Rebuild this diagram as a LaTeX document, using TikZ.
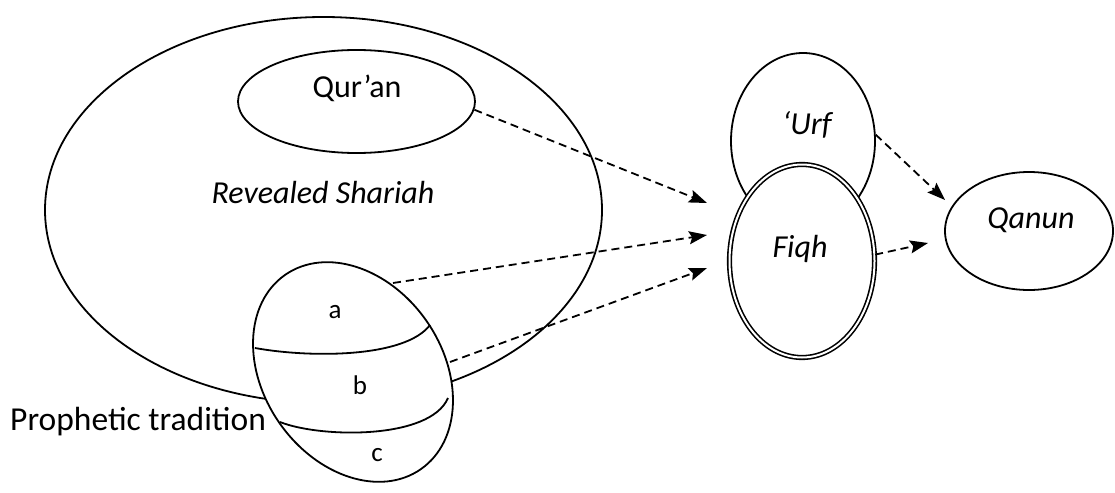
\documentclass[tikz,border=0pt]{standalone}
\usepackage{fontspec}
\setmainfont{Carlito}
\usetikzlibrary{shapes.geometric,arrows.meta}
\begin{document}
\begin{tikzpicture}[x=1pt,y=-1pt,
  ell/.style={draw, ellipse, line width=1.8pt, inner sep=0pt},
  lbl/.style={font=\fontsize{32}{38}\selectfont, inner sep=0pt, anchor=base},
  ilbl/.style={lbl, font=\fontsize{32}{38}\selectfont\itshape},
  hand/.style={font=\fontsize{27}{30}\selectfont, inner sep=0pt},
  divider/.style={line width=1.8pt},
  flow/.style={line width=1.8pt, dash pattern=on 8pt off 5pt, -{Stealth[length=18pt,width=13pt,inset=3pt]}}]
\useasboundingbox (0,0) rectangle (1115,492);
% Revealed Shariah
\node[ell, minimum width=557pt, minimum height=386pt] (shariah) at (323.5,210) {};
\node[ell, minimum width=237pt, minimum height=103pt] (quran) at (356.5,101.5) {};
\node[lbl] (quranT) at (357,98) {Qur'an};
\node[ilbl] (revT) at (323,203) {Revealed Shariah};
% Prophetic tradition
\node[ell, fill=white, minimum width=237pt, minimum height=179pt, rotate=-55] (proph) at (353,372) {};
\draw[divider] (255,348) .. controls (310,358) and (405,358) .. (430,325);
\draw[divider] (280,422) .. controls (320,438) and (430,440) .. (448,398);
\node[hand] (la) at (335,312) {a};
\node[hand] (lb) at (360,385) {b};
\node[hand] (lc) at (377,455) {c};
\node[lbl, anchor=base west, font=\fontsize{33.5}{40}\selectfont] (propT) at (10,430) {Prophetic tradition};
% Urf and Fiqh
\node[ell, minimum width=144pt, minimum height=176pt] (urf) at (803,141) {};
\node[ilbl] (urfT) at (807,135) {`Urf};
\node[draw, ellipse, double, double distance=2pt, line width=1.6pt, fill=white,
      minimum width=145pt, minimum height=193pt] (fiqh) at (802,261) {};
\node[ilbl] (fiqhT) at (800,257) {Fiqh};
% Qanun
\node[ell, minimum width=168pt, minimum height=118pt] (qanun) at (1029,231) {};
\node[ilbl] (qanT) at (1031,228) {Qanun};
% arrows
\coordinate (pa) at (393,283);
\coordinate (pb) at (450,362);
\coordinate (tipQ) at (707,203);
\coordinate (tipA) at (707,235);
\coordinate (tipB) at (707,268);
\coordinate (tipU) at (945,200);
\coordinate (tipF) at (928,243);
\draw[flow] (quran.-4) -- (tipQ);
\draw[flow] (pa) -- (tipA);
\draw[flow] (pb) -- (tipB);
\draw[flow] (urf.5) -- (tipU);
\draw[flow] (fiqh.5) -- (tipF);
\end{tikzpicture}
\end{document}
